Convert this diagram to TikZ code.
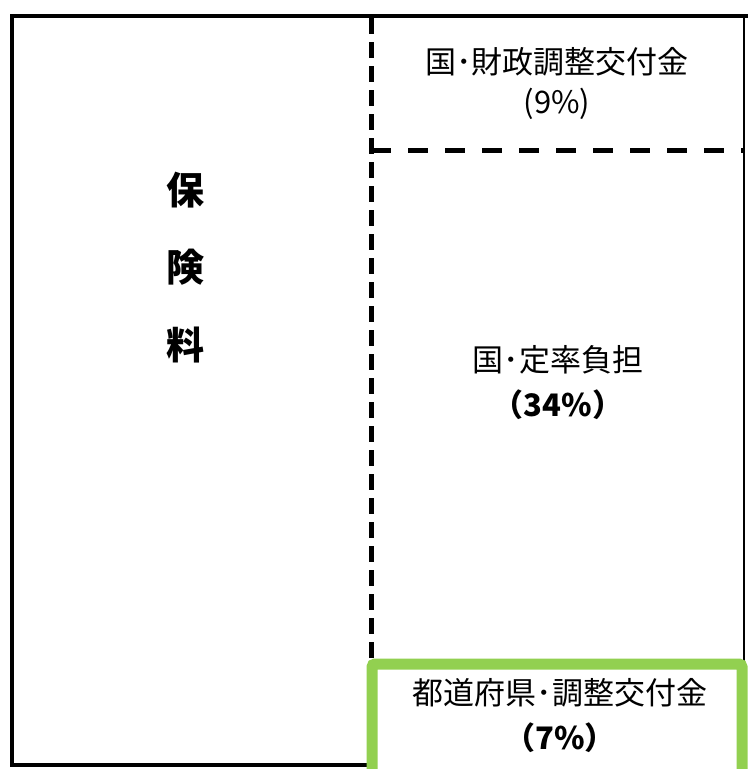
\documentclass[tikz,border=0pt]{standalone}
\usepackage{fontspec}
\setmainfont{Noto Sans CJK JP}
\definecolor{grn}{HTML}{92D050}
\begin{document}
\begin{tikzpicture}[x=1pt,y=-1pt,
  lbl/.style={font=\fontsize{31}{36}\selectfont, align=center, inner sep=0pt},
  lblb/.style={font=\fontsize{31}{36}\selectfont\bfseries, align=center, inner sep=0pt},
  big/.style={font=\fontsize{38}{40}\selectfont\bfseries, inner sep=0pt}]
\useasboundingbox (0,0) rectangle (748,769);
\fill[white] (0,0) rectangle (748,769);
% outer frame
\draw[line width=4] (12,16) -- (748,16);
\draw[line width=4] (12,14) -- (12,765) -- (372,765);
\draw[line width=1.5] (744,16) -- (744,665);
% dashed dividers
\coordinate (vt) at (371,18);
\coordinate (vb) at (371,662);
\coordinate (hl) at (371,150);
\coordinate (hr) at (744,150);
\draw[line width=5, dash pattern=on 16 off 8] (vt) -- (vb);
\draw[line width=5, dash pattern=on 20 off 17] (hl) -- (hr);
% green box
\draw[grn, line width=11, rounded corners=3] (372,775) -- (372,664) -- (742,664) -- (742,775);
% texts
\node[big] (h1) at (185,190) {保};
\node[big] (h2) at (185,267) {険};
\node[big] (h3) at (185,345) {料};
\node[lbl] (t1) at (557,62) {国･財政調整交付金};
\node[lbl] (t1b) at (557,104) {(9\%)};
\node[lbl] (t2) at (558,360) {国･定率負担};
\node[lblb] (t2b) at (558,405) {（34\%）};
\node[lbl] (t3) at (560,693) {都道府県･調整交付金};
\node[lblb] (t3b) at (560,738) {（7\%）};
\end{tikzpicture}
\end{document}
